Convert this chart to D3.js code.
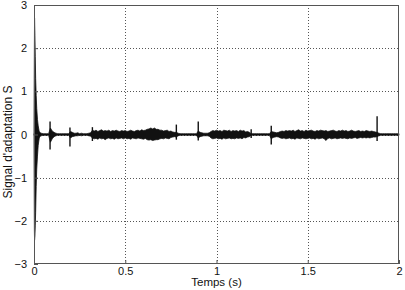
<!DOCTYPE html>
<html>
<head>
<meta charset="utf-8">
<script src="https://cdn.jsdelivr.net/npm/d3@7"></script>
<style>
  body { margin: 0; background: #fff; }
  svg { display: block; font-family: "Liberation Sans", Arial, sans-serif; }
</style>
</head>
<body>
<svg id="chart" width="405" height="290"></svg>
<script>
// ticks
const xTicks = [0, 0.5, 1, 1.5, 2]
const yTicks = [-3, -2, -1, 0, 1, 2, 3]

// noise band envelope, sampled every 0.01 s from 0 to 2 s
const dt = 0.01
const envHi = [
  0.02, 0.02, 0.02, 0.05, 0.03, 0.02, 0.02, 0.02, 0.02, 0.15,
  0.08, 0.05, 0.03, 0.02, 0.02, 0.02, 0.02, 0.02, 0.02, 0.02,
  0.07, 0.05, 0.03, 0.03, 0.04, 0.02, 0.03, 0.02, 0.02, 0.02,
  0.03, 0.04, 0.10, 0.08, 0.10, 0.07, 0.09, 0.11, 0.08, 0.09,
  0.08, 0.10, 0.07, 0.09, 0.08, 0.10, 0.08, 0.07, 0.09, 0.08,
  0.09, 0.07, 0.08, 0.10, 0.08, 0.07, 0.09, 0.10, 0.08, 0.11,
  0.09, 0.10, 0.12, 0.13, 0.15, 0.13, 0.15, 0.12, 0.12, 0.10,
  0.10, 0.08, 0.09, 0.10, 0.07, 0.08, 0.06, 0.05, 0.05, 0.03,
  0.02, 0.02, 0.02, 0.02, 0.02, 0.02, 0.02, 0.02, 0.02, 0.02,
  0.08, 0.05, 0.04, 0.03, 0.03, 0.03, 0.04, 0.07, 0.09, 0.08,
  0.10, 0.08, 0.09, 0.07, 0.10, 0.09, 0.08, 0.10, 0.07, 0.09,
  0.08, 0.09, 0.07, 0.10, 0.08, 0.09, 0.06, 0.07, 0.05, 0.02,
  0.02, 0.02, 0.02, 0.02, 0.02, 0.02, 0.02, 0.02, 0.02, 0.02,
  0.07, 0.06, 0.05, 0.04, 0.05, 0.07, 0.08, 0.07, 0.09, 0.08,
  0.09, 0.08, 0.10, 0.07, 0.09, 0.11, 0.08, 0.09, 0.07, 0.10,
  0.08, 0.09, 0.10, 0.08, 0.07, 0.09, 0.08, 0.10, 0.09, 0.08,
  0.09, 0.07, 0.08, 0.09, 0.10, 0.08, 0.07, 0.09, 0.08, 0.10,
  0.08, 0.09, 0.07, 0.08, 0.10, 0.08, 0.07, 0.08, 0.09, 0.07,
  0.08, 0.07, 0.09, 0.08, 0.07, 0.08, 0.07, 0.06, 0.05, 0.03,
  0.02, 0.02, 0.02, 0.02, 0.02, 0.02, 0.02, 0.02, 0.02, 0.02,
  0.02
]
const envLo = [
  -0.02, -0.02, -0.02, -0.05, -0.03, -0.02, -0.02, -0.02, -0.02, -0.18,
  -0.10, -0.05, -0.03, -0.02, -0.02, -0.02, -0.02, -0.02, -0.02, -0.02,
  -0.08, -0.05, -0.04, -0.03, -0.03, -0.02, -0.03, -0.02, -0.02, -0.02,
  -0.03, -0.04, -0.08, -0.10, -0.09, -0.11, -0.08, -0.10, -0.09, -0.12,
  -0.09, -0.08, -0.10, -0.09, -0.11, -0.08, -0.10, -0.09, -0.08, -0.10,
  -0.08, -0.10, -0.09, -0.11, -0.08, -0.09, -0.10, -0.08, -0.09, -0.10,
  -0.11, -0.09, -0.12, -0.13, -0.12, -0.14, -0.13, -0.12, -0.12, -0.10,
  -0.09, -0.10, -0.08, -0.09, -0.10, -0.07, -0.06, -0.05, -0.06, -0.03,
  -0.02, -0.02, -0.02, -0.02, -0.02, -0.02, -0.02, -0.02, -0.02, -0.02,
  -0.08, -0.05, -0.04, -0.03, -0.03, -0.03, -0.04, -0.08, -0.10, -0.09,
  -0.08, -0.10, -0.09, -0.11, -0.08, -0.10, -0.09, -0.08, -0.10, -0.09,
  -0.10, -0.08, -0.09, -0.08, -0.10, -0.07, -0.08, -0.06, -0.05, -0.02,
  -0.02, -0.02, -0.02, -0.02, -0.02, -0.02, -0.02, -0.02, -0.02, -0.02,
  -0.10, -0.07, -0.06, -0.05, -0.06, -0.08, -0.09, -0.08, -0.10, -0.09,
  -0.08, -0.10, -0.09, -0.11, -0.08, -0.09, -0.10, -0.08, -0.09, -0.10,
  -0.09, -0.08, -0.10, -0.09, -0.11, -0.08, -0.10, -0.09, -0.08, -0.10,
  -0.14, -0.09, -0.08, -0.10, -0.09, -0.08, -0.10, -0.09, -0.08, -0.09,
  -0.08, -0.09, -0.10, -0.08, -0.09, -0.08, -0.07, -0.09, -0.08, -0.07,
  -0.08, -0.07, -0.08, -0.07, -0.08, -0.07, -0.06, -0.06, -0.05, -0.03,
  -0.02, -0.02, -0.02, -0.02, -0.02, -0.02, -0.02, -0.02, -0.02, -0.02,
  -0.02
]

// start-up transient
const transT = [0, 0.002, 0.003, 0.005, 0.007, 0.009, 0.012, 0.015, 0.019, 0.023, 0.028, 0.032]
const transHi = [0, 2.0, 2.7, 2.3, 1.8, 1.3, 0.9, 0.6, 0.35, 0.2, 0.08, 0.03]
const transLo = [0, -2.2, -2.45, -2.35, -2.1, -1.8, -1.2, -0.8, -0.5, -0.25, -0.1, -0.03]

// isolated spikes
const spikeT = [0.088, 0.197, 0.32, 0.78, 0.90, 1.19, 1.30, 1.88]
const spikeHi = [0.30, 0.16, 0.17, 0.23, 0.30, 0.12, 0.20, 0.42]
const spikeLo = [-0.35, -0.28, -0.15, -0.12, -0.14, -0.08, -0.23, -0.15]

const margin = {top: 5, right: 6, bottom: 26, left: 34}
const width = 405 - margin.left - margin.right
const height = 290 - margin.top - margin.bottom

let svg = d3.select('#chart')
let g = svg.append('g').attr('transform', 'translate(' + margin.left + ',' + margin.top + ')')

let xScale = d3.scaleLinear().domain([0, 2]).range([0, width])
let yScale = d3.scaleLinear().domain([-3, 3]).range([height, 0])

// grid
g.append('g').selectAll('line').data(xTicks.slice(1, -1)).enter().append('line')
    .attr('x1', d => Math.round(xScale(d)) + 0.5).attr('x2', d => Math.round(xScale(d)) + 0.5)
    .attr('y1', 0).attr('y2', height)
    .attr('stroke', '#555').attr('stroke-dasharray', '1,2')
g.append('g').selectAll('line').data(yTicks.slice(1, -1)).enter().append('line')
    .attr('y1', d => Math.round(yScale(d)) + 0.5).attr('y2', d => Math.round(yScale(d)) + 0.5)
    .attr('x1', 0).attr('x2', width)
    .attr('stroke', '#555').attr('stroke-dasharray', '1,2')

// signal band
let band = envHi.map((h, i) => ({t: i * dt, hi: h, lo: envLo[i]}))
let area = d3.area()
    .x(d => xScale(d.t))
    .y0(d => yScale(d.lo))
    .y1(d => yScale(d.hi))
g.append('path').datum(band)
    .attr('d', area)
    .attr('fill', '#111').attr('stroke', '#111').attr('stroke-width', 0.7)

// transient
let trans = transT.map((t, i) => ({t: t, hi: transHi[i], lo: transLo[i]}))
g.append('path').datum(trans)
    .attr('d', area)
    .attr('fill', '#111').attr('stroke', '#111').attr('stroke-width', 0.8)

// spikes
g.append('g').selectAll('line').data(spikeT).enter().append('line')
    .attr('x1', d => xScale(d)).attr('x2', d => xScale(d))
    .attr('y1', (d, i) => yScale(spikeHi[i]))
    .attr('y2', (d, i) => yScale(spikeLo[i]))
    .attr('stroke', '#111').attr('stroke-width', 1.4)

// axes box
g.append('rect').attr('x', 0.5).attr('y', 0.5).attr('width', width - 1).attr('height', height - 1)
    .attr('fill', 'none').attr('stroke', '#555')

let xAxis = g.append('g').attr('transform', 'translate(0,' + height + ')')
    .call(d3.axisBottom(xScale).tickValues(xTicks).tickSize(-4).tickPadding(3).tickFormat(d3.format('')))
let yAxis = g.append('g')
    .call(d3.axisLeft(yScale).tickValues(yTicks).tickSize(-4).tickPadding(7).tickFormat(d3.format('')))
for (let ax of [xAxis, yAxis]) {
    ax.select('.domain').remove()
    ax.selectAll('line').attr('stroke', '#555')
    ax.selectAll('text').attr('font-size', 11).attr('fill', '#111')
        .attr('font-family', '"Liberation Sans", Arial, sans-serif')
}

// labels
svg.append('text').attr('x', margin.left + width / 2).attr('y', 286)
    .attr('text-anchor', 'middle').attr('font-size', 11.5).attr('fill', '#111')
    .text('Temps (s)')
svg.append('text').attr('transform', 'translate(12,' + 142 + ') rotate(-90)')
    .attr('text-anchor', 'middle').attr('font-size', 12).attr('fill', '#111')
    .text('Signal d\'adaptation S')
</script>
</body>
</html>
